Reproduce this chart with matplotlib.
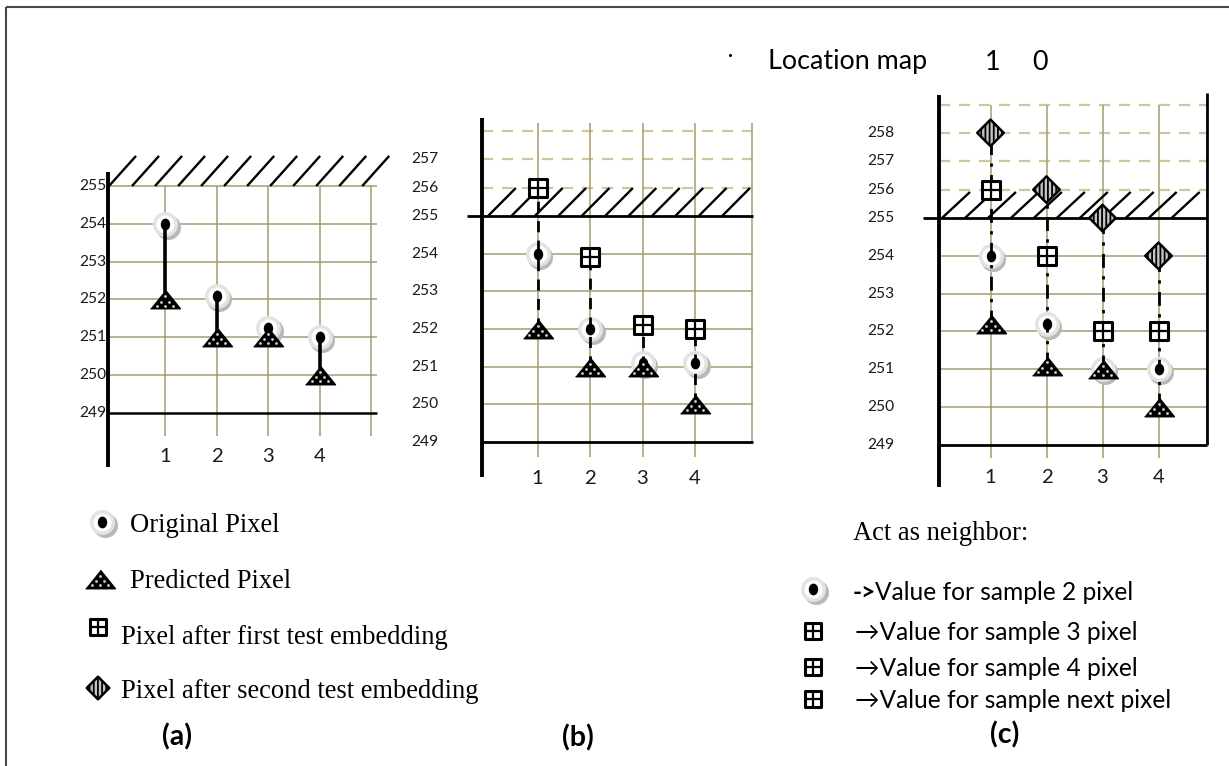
import numpy as np
import matplotlib
matplotlib.use("Agg")
import matplotlib.pyplot as plt
from matplotlib.transforms import offset_copy, Affine2D
from matplotlib.markers import MarkerStyle
from matplotlib.collections import LineCollection

W, H, DPI = 1229, 766, 100

# ---------------- data ----------------
samples = [1, 2, 3, 4]
x_ticklabels = ["1", "2", "3", "4"]

a_original = [254.0, 252.1, 251.25, 251.0]
a_predicted = [252.0, 251.0, 251.0, 250.0]

b_original = [254.0, 252.0, 251.1, 251.1]
b_predicted = [252.0, 251.0, 251.0, 250.0]
b_first = [256.0, 253.9, 252.1, 252.0]

c_original = [254.0, 252.2, 251.0, 251.0]
c_predicted = [252.2, 251.1, 251.0, 250.0]
c_first = [256.0, 254.0, 252.0, 252.0]
c_second = [258.0, 256.0, 255.0, 254.0]

a_yticks = [255, 254, 253, 252, 251, 250, 249]
b_yticks = [257, 256, 255, 254, 253, 252, 251, 250, 249]
c_yticks = [258, 257, 256, 255, 254, 253, 252, 251, 250, 249]
solid_grid = [250, 251, 252, 253, 254]
b_dashed = [256, 257, 258]
c_dashed = [256, 257, 258, 259]
LIMIT = 255
BOTTOM = 249

legend_a = ["Original Pixel", "Predicted Pixel",
            "Pixel after first test embedding",
            "Pixel after second test embedding"]
legend_c_title = "Act as neighbor:"
legend_c = ["Value for sample 2 pixel", "\u2192Value for sample 3 pixel",
            "\u2192Value for sample 4 pixel", "\u2192Value for sample next pixel"]
panel_labels = ["(a)", "(b)", "(c)"]
location_map = ["Location map", "1", "0"]

# ---------------- styles ----------------
GRID = "#a59c6e"
DASH = "#cfc6a0"
SANS = ["Lato", "DejaVu Sans"]
SERIF = ["Liberation Serif", "DejaVu Serif"]
K = 0.75  # compression of the region above the 255 limit

plt.rcParams["hatch.linewidth"] = 1.3


def fwd(y):
    y = np.asarray(y, dtype=float)
    return np.where(y > LIMIT, LIMIT + (y - LIMIT) * K, y)


def inv(f):
    f = np.asarray(f, dtype=float)
    return np.where(f > LIMIT, LIMIT + (f - LIMIT) / K, f)


fig = plt.figure(figsize=(W / DPI, H / DPI), dpi=DPI)
ov = fig.add_axes([0, 0, 1, 1])
ov.set_xlim(0, W)
ov.set_ylim(H, 0)
ov.axis("off")
renderer = fig.canvas.get_renderer()


def fit_size(s, target_px, family, weight="normal", base=20.0):
    t = ov.text(0, 0, s, fontsize=base, family=family, weight=weight)
    w = t.get_window_extent(renderer).width
    t.remove()
    return base * target_px / w


TICK_FS = fit_size("258", 27, SANS)
XT_FS = TICK_FS * 1.3
LOC_FS = fit_size("Location map", 159, SANS)
LEG_FS = fit_size(legend_c[3], 317, SANS)
SERIF_FS = fit_size(legend_a[3], 358, SERIF)
LAB_FS = fit_size("(a)", 30, SANS, weight="bold")


def make_panel(x1px, bx, y255px, d):
    ax = fig.add_axes([0, 0, 1, 1])
    ax.set_yscale("function", functions=(fwd, inv))
    ax.set_xlim(1 - x1px / bx, 1 + (W - x1px) / bx)
    ax.set_ylim(float(inv(LIMIT - (H - y255px) / d)),
                float(inv(LIMIT + y255px / d)))
    ax.axis("off")
    ax.patch.set_alpha(0)
    return ax


def hline(ax, y, x0, x1, **kw):
    ax.plot([x0, x1], [y, y], solid_capstyle="butt", **kw)


def vline(ax, x, y0, y1, **kw):
    ax.plot([x, x], [y0, y1], solid_capstyle="butt", **kw)


def hatch(ax, x0, step, n, w, top):
    segs = [[(x0 + i * step, LIMIT), (x0 + i * step + w, top)] for i in range(n)]
    ax.add_collection(LineCollection(segs, colors="black", linewidths=1.7, zorder=2))


def draw_original(ax, xs, ys, ms=18, z=5):
    sh = offset_copy(ax.transData, fig=fig, x=2.5, y=-3, units="dots")
    ax.plot(xs, ys, ls="none", marker="o", ms=ms, mfc="#b8b8b8", mec="none",
            transform=sh, zorder=z, clip_on=False)
    ax.plot(xs, ys, ls="none", marker="o", ms=ms, mfc="#e3e3e3", mec="none",
            zorder=z + 0.01, clip_on=False)
    ax.plot(xs, ys, ls="none", marker="o", ms=ms * 0.72, mfc="white", mec="none",
            zorder=z + 0.02, clip_on=False)
    ax.plot(xs, ys, ls="none",
            marker=MarkerStyle("o", transform=Affine2D().scale(0.8, 1.0)),
            ms=ms * 0.47, mfc="black", mec="none", zorder=z + 0.03, clip_on=False)


TRI = [(-1, -0.62), (1, -0.62), (0, 0.62)]
TRI_DOTS = [(0, 3), (-4, -2), (4, -2), (-8, -6), (0, -6), (8, -6)]


def draw_predicted(ax, xs, ys, ms=21.5, z=6):
    ax.plot(xs, ys, ls="none", marker=TRI, ms=ms, mfc="black", mec="black",
            mew=1, zorder=z, clip_on=False)
    for dx, dy in TRI_DOTS:
        t = offset_copy(ax.transData, fig=fig, x=dx * ms / 21, y=dy * ms / 21, units="dots")
        ax.plot(xs, ys, ls="none", marker="o", ms=2.0, mfc="#d0d0d0", mec="none",
                transform=t, zorder=z + 0.01, clip_on=False)


def draw_first(ax, xs, ys, ms=13, z=7):
    ax.plot(xs, ys, ls="none", marker=MarkerStyle("s", joinstyle="round"), ms=ms,
            mfc="white", mec="black", mew=2.2, zorder=z, clip_on=False)
    ax.plot(xs, ys, ls="none", marker="+", ms=ms, mec="black", mew=1.6,
            zorder=z + 0.01, clip_on=False)


def draw_second(ax, xs, ys, ms=13.5, z=8):
    ax.scatter(xs, ys, marker="D", s=ms ** 2, facecolor="#c4c4c4", edgecolor="black",
               linewidths=1.8, hatch="||||", zorder=z, clip_on=False)


def ytick_labels(ax, xpos, ticks):
    for v in ticks:
        ax.text(xpos, v, str(v), ha="center", va="center", fontsize=TICK_FS,
                family=SANS, color="#1a1a1a")


def xtick_labels(ax, ypos):
    for xv, lab in zip(samples, x_ticklabels):
        ax.text(xv, ypos, lab, ha="center", va="center", fontsize=XT_FS,
                family=SANS, color="#1a1a1a")


# ---------------- panel (a) ----------------
axA = make_panel(165.25, 51.5, 186, 37.83)
xl, xr = -0.11, 5.11
for v in solid_grid + [LIMIT]:
    hline(axA, v, xl, xr, color=GRID, lw=1.1, zorder=1)
for xv in samples + [5]:
    vline(axA, xv, LIMIT, 248.4, color=GRID, lw=1.1, zorder=1)
hline(axA, BOTTOM, xl, xr, color="black", lw=1.8, zorder=2)
vline(axA, xl, 255.49, 247.57, color="black", lw=2.8, zorder=2)
hatch(axA, -0.092, 0.447, 12, 0.524, 256.06)
ytick_labels(axA, -0.40, a_yticks)
xtick_labels(axA, 247.84)
axA.vlines(samples, a_predicted, a_original, color="black", lw=2.6, zorder=5.5)
draw_original(axA, samples, a_original)
draw_predicted(axA, samples, a_predicted)

# ---------------- panel (b) ----------------
axB = make_panel(537.5, 52.5, 216, 37.67)
xl, xr = -0.057, 5.105
for v in solid_grid:
    hline(axB, v, xl, xr, color=GRID, lw=1.1, zorder=1)
for v in b_dashed:
    axB.plot([xl, xr], [v, v], color=DASH, lw=1.6, ls=(0, (5, 4)), zorder=1)
for xv in samples:
    vline(axB, xv, 258.3, 248.6, color=GRID, lw=1.1, zorder=1)
vline(axB, 5.09, 258.3, BOTTOM, color=GRID, lw=1.1, zorder=1)
hline(axB, LIMIT, -0.343, xr, color="black", lw=2.0, zorder=2)
hline(axB, BOTTOM, xl, xr, color="black", lw=2.0, zorder=2)
vline(axB, xl, 258.47, 248.07, color="black", lw=2.8, zorder=2)
hatch(axB, 0.057, 0.446, 11, 0.53, LIMIT + (28 / 37.67) / K)
ytick_labels(axB, -1.14, b_yticks)
xtick_labels(axB, 248.04)
axB.vlines(samples, b_predicted, b_first, color="black", lw=2.0,
           linestyles=[(0, (4, 3))], zorder=5.5)
draw_original(axB, samples, b_original)
draw_predicted(axB, samples, b_predicted)
draw_first(axB, samples, b_first)

# ---------------- panel (c) ----------------
axC = make_panel(990.5, 56, 218, 37.83)
xl, xr = 0.080, 4.866
for v in solid_grid:
    hline(axC, v, xl, xr, color=GRID, lw=1.1, zorder=1)
for v in c_dashed:
    axC.plot([xl, xr], [v, v], color=DASH, lw=1.6, ls=(0, (5, 4)), zorder=1)
for xv in samples:
    vline(axC, xv, 259.0, 248.66, color=GRID, lw=1.1, zorder=1)
hline(axC, LIMIT, -0.205, xr, color="black", lw=2.0, zorder=2)
hline(axC, BOTTOM, xl, xr, color="black", lw=2.0, zorder=2)
vline(axC, xl, 259.33, 247.9, color="black", lw=2.8, zorder=2)
vline(axC, xr, 259.4, BOTTOM, color="black", lw=2.0, zorder=2)
hatch(axC, 0.134, 0.41, 11, 0.5, LIMIT + (26 / 37.83) / K)
ytick_labels(axC, -0.964, c_yticks)
xtick_labels(axC, 248.13)
axC.vlines(samples, c_predicted, c_second, color="black", lw=2.0,
           linestyles=[(0, (5, 3, 1.2, 3))], zorder=5.5)
draw_original(axC, samples, c_original)
draw_predicted(axC, samples, c_predicted)
draw_first(axC, samples, c_first)
draw_second(axC, samples, c_second)

# ---------------- legends & labels (pixel overlay) ----------------
draw_original(ov, [102], [522])
ov.text(130, 525, legend_a[0], ha="left", va="center", fontsize=SERIF_FS, family=SERIF)
draw_predicted(ov, [100], [579])
ov.text(130, 582, legend_a[1], ha="left", va="center", fontsize=SERIF_FS, family=SERIF)
draw_first(ov, [98], [627], ms=11)
ov.text(121, 637, legend_a[2], ha="left", va="center", fontsize=SERIF_FS, family=SERIF)
draw_second(ov, [98], [688], ms=11.5)
ov.text(121, 692, legend_a[3], ha="left", va="center", fontsize=SERIF_FS, family=SERIF)

ov.text(853, 533, legend_c_title, ha="left", va="center", fontsize=SERIF_FS, family=SERIF)
draw_original(ov, [813], [589])
ov.text(853, 592, "->", ha="left", va="center", fontsize=LEG_FS, family=SANS, weight="bold")
ov.text(875, 592, legend_c[0], ha="left", va="center", fontsize=LEG_FS, family=SANS)
for yy, txt in zip([632, 668, 700], legend_c[1:]):
    draw_first(ov, [813], [yy - 1], ms=11)
    ov.text(855, yy, txt, ha="left", va="center", fontsize=LEG_FS, family=SANS)

for xx, yy, lab in zip([177, 578, 1005], [737, 738, 735], panel_labels):
    ov.text(xx, yy, lab, ha="center", va="center", fontsize=LAB_FS, family=SANS, weight="bold")

ov.text(768, 62, location_map[0], ha="left", va="center", fontsize=LOC_FS, family=SANS)
ov.text(993, 62, location_map[1], ha="center", va="center", fontsize=LOC_FS, family=SANS)
ov.text(1040, 62, location_map[2], ha="center", va="center", fontsize=LOC_FS, family=SANS)
ov.plot([730], [55], ls="none", marker="o", ms=1.2, color="black")

# frame
ov.plot([6, W], [7, 7], color="#4a4a4a", lw=1.5, solid_capstyle="butt")
ov.plot([6, 6], [7, H], color="#4a4a4a", lw=1.5, solid_capstyle="butt")

fig.savefig("out.png", dpi=DPI)
